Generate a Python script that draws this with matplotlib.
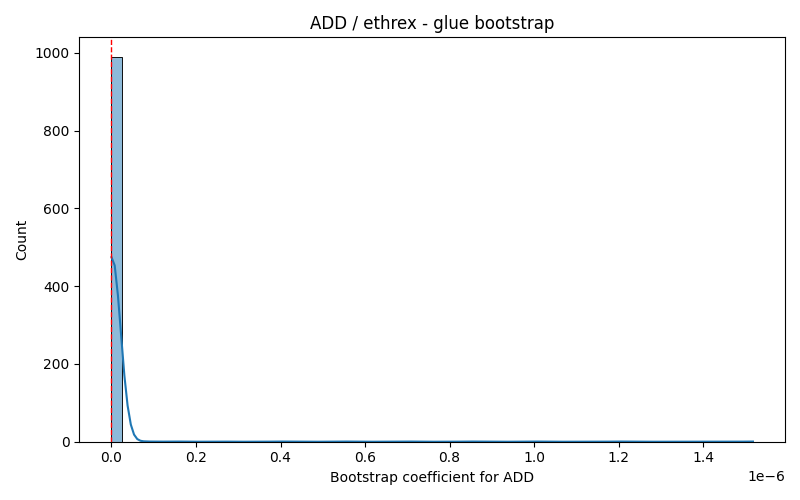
import matplotlib

matplotlib.use("Agg")
import matplotlib.pyplot as plt
import numpy as np
import seaborn as sns

# bootstrap coefficient values (x1e-6) and how many of the 1000 resamples hit each
coef_values = [0.0, 0.003, 0.006, 0.010, 0.08, 0.15, 0.25, 0.4, 0.55, 0.7, 0.85, 1.0, 1.2, 1.518]
coef_counts = [700, 180, 70, 40, 1, 1, 1, 1, 1, 1, 1, 1, 1, 1]
point_estimate = 0.0

samples = np.repeat(np.array(coef_values) * 1e-6, coef_counts)

fig, ax = plt.subplots(figsize=(8, 5))
sns.histplot(samples, bins=62, kde=True, ax=ax)
ax.axvline(point_estimate, color="red", linestyle="--", linewidth=1)
ax.set_title("ADD / ethrex - glue bootstrap")
ax.set_xlabel("Bootstrap coefficient for ADD")
ax.set_ylabel("Count")
fig.tight_layout()
fig.savefig("out.png", dpi=100)
plt.close(fig)
